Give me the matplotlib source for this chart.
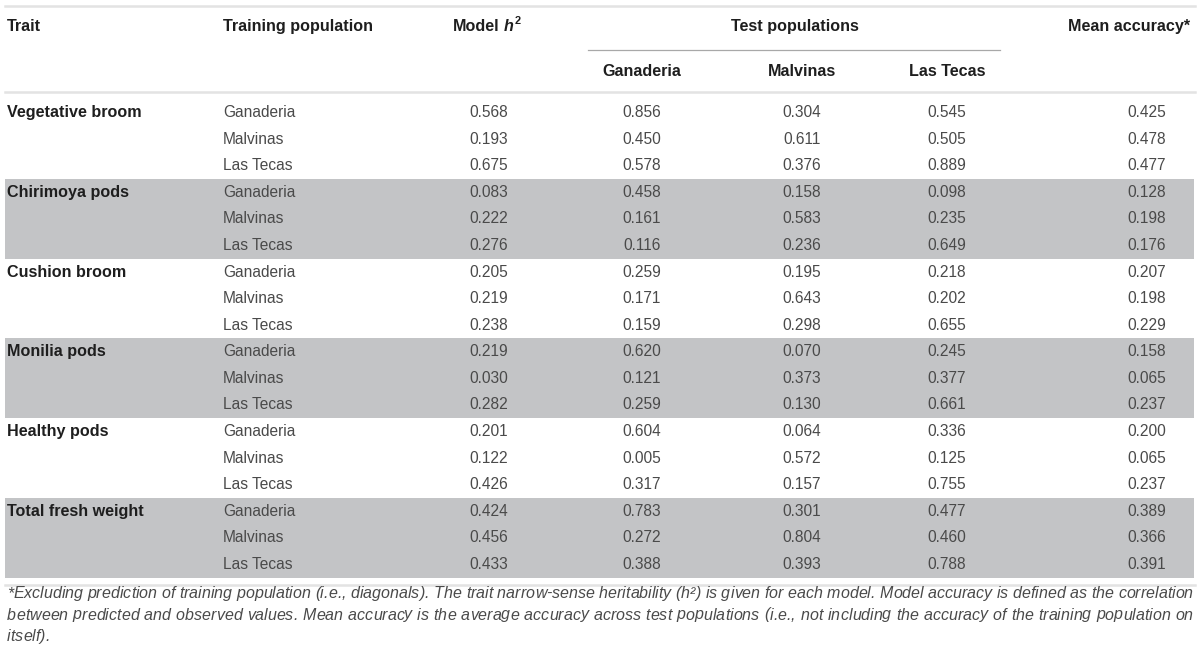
import matplotlib
matplotlib.use("Agg")
import matplotlib.pyplot as plt

# table values
traits = ["Vegetative broom", "Chirimoya pods", "Cushion broom",
          "Monilia pods", "Healthy pods", "Total fresh weight"]
train_pops = ["Ganaderia", "Malvinas", "Las Tecas"]
test_pops = ["Ganaderia", "Malvinas", "Las Tecas"]

model_h2 = [0.568, 0.193, 0.675,
            0.083, 0.222, 0.276,
            0.205, 0.219, 0.238,
            0.219, 0.030, 0.282,
            0.201, 0.122, 0.426,
            0.424, 0.456, 0.433]
acc_ganaderia = [0.856, 0.450, 0.578,
                 0.458, 0.161, 0.116,
                 0.259, 0.171, 0.159,
                 0.620, 0.121, 0.259,
                 0.604, 0.005, 0.317,
                 0.783, 0.272, 0.388]
acc_malvinas = [0.304, 0.611, 0.376,
                0.158, 0.583, 0.236,
                0.195, 0.643, 0.298,
                0.070, 0.373, 0.130,
                0.064, 0.572, 0.157,
                0.301, 0.804, 0.393]
acc_lastecas = [0.545, 0.505, 0.889,
                0.098, 0.235, 0.649,
                0.218, 0.202, 0.655,
                0.245, 0.377, 0.661,
                0.336, 0.125, 0.755,
                0.477, 0.460, 0.788]
mean_acc = [0.425, 0.478, 0.477,
            0.128, 0.198, 0.176,
            0.207, 0.198, 0.229,
            0.158, 0.065, 0.237,
            0.200, 0.065, 0.237,
            0.389, 0.366, 0.391]

footnote_lines = [
    "*Excluding prediction of training population (i.e., diagonals). The trait narrow-sense "
    "heritability (h\u00b2) is given for each model. Model accuracy is defined as the correlation",
    "between predicted and observed values. Mean accuracy is the average accuracy across test "
    "populations (i.e., not including the accuracy of the training population on",
    "itself).",
]

FONT = "Liberation Sans"
HEAD = "#1e1e1e"
BODY = "#4a4a4a"
SHADE = "#c3c4c6"
RULE = "#e3e3e3"
FS = 11.2
FSB = 11.65
FSF = 11.5

plt.rcParams["font.family"] = [FONT, "DejaVu Sans"]

fig = plt.figure(figsize=(12, 6.6), dpi=100)
ax = fig.add_axes([0, 0, 1, 1])
ax.set_xlim(0, 1200)
ax.set_ylim(660, 0)
ax.axis("off")
renderer = fig.canvas.get_renderer()


def text_width(s, **kw):
    t = ax.text(0, 0, s, **kw)
    bb = t.get_window_extent(renderer)
    t.remove()
    return bb.width


y0, pitch = 112.5, 26.59
row_y = [y0 + i * pitch for i in range(len(model_h2))]

# shaded bands for every other trait
for t in range(1, len(traits), 2):
    top = row_y[3 * t] - 13.5
    ax.fill_between([5, 1194], top, top + 3 * pitch, color=SHADE, lw=0, zorder=0)

# rules
ax.plot([5, 1195], [6, 6], color=RULE, lw=1.8)
ax.plot([588, 1000], [49.5, 49.5], color="#a8a8a8", lw=0.9)
ax.plot([5, 1195], [92, 92], color=RULE, lw=1.8)
ax.plot([5, 1195], [row_y[-1] + 20, row_y[-1] + 20], color=RULE, lw=1.8)

# header
hkw = dict(fontsize=FSB, fontweight="bold", color=HEAD, va="center")
ax.text(7, 26.5, "Trait", ha="left", **hkw)
ax.text(223, 26.5, "Training population", ha="left", **hkw)
mx = 453
ax.text(mx, 26.5, "Model", ha="left", **hkw)
mx += text_width("Model", **hkw) + text_width("a a", **hkw) - text_width("aa", **hkw)
ax.text(mx, 26.5, "h", ha="left", style="italic", **hkw)
mx += text_width("h", style="italic", **hkw) + 1
ax.text(mx, 20.5, "2", ha="left", fontsize=FSB * 0.68, fontweight="bold",
        color=HEAD, va="center")
ax.text(795, 26.5, "Test populations", ha="center", **hkw)
ax.text(1190, 26.5, "Mean accuracy*", ha="right", **hkw)

col_x = [642, 802, 947]
for x, name in zip(col_x, test_pops):
    ax.text(x, 72, name, ha="center", **hkw)

# body rows
bkw = dict(fontsize=FS, color=BODY, va="center")
for i, y in enumerate(row_y):
    if i % 3 == 0:
        ax.text(7, y, traits[i // 3], ha="left", fontsize=FSB, fontweight="bold",
                color=HEAD, va="center")
    ax.text(223, y, train_pops[i % 3], ha="left", **bkw)
    ax.text(489, y, f"{model_h2[i]:.3f}", ha="center", **bkw)
    for x, vals in zip(col_x, [acc_ganaderia, acc_malvinas, acc_lastecas]):
        ax.text(x, y, f"{vals[i]:.3f}", ha="center", **bkw)
    ax.text(1147, y, f"{mean_acc[i]:.3f}", ha="center", **bkw)

# footnote, justified across the width with letter and word spacing
fkw = dict(fontsize=FSF, style="italic", color=BODY, va="baseline")
left, right = 7, 1193
base = text_width("xx", **fkw)
adv_cache = {}


def advance(c):
    if c not in adv_cache:
        adv_cache[c] = text_width("x" + c + "x", **fkw) - base
    return adv_cache[c]


fy = 598
for li, line in enumerate(footnote_lines):
    advs = [advance(c) for c in line]
    last = li == len(footnote_lines) - 1
    extra = 0 if last else (right - left) - sum(advs[:-1]) - text_width(line[-1], **fkw)
    weights = [3.0 if c == " " else 1.0 for c in line[:-1]]
    unit = extra / sum(weights) if weights else 0
    x = left
    for j, c in enumerate(line):
        if c != " ":
            ax.text(x, fy, c, ha="left", **fkw)
        if j < len(line) - 1:
            x += advs[j] + unit * weights[j]
    fy += 21.5

fig.savefig("out.png", dpi=100)
